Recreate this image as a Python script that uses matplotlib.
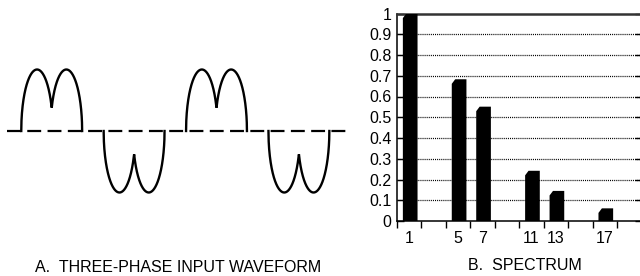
import numpy as np
import matplotlib
matplotlib.use("Agg")
import matplotlib.pyplot as plt

plt.rcParams['font.family'] = ['Liberation Sans', 'DejaVu Sans']
plt.rcParams['lines.scale_dashes'] = False

# ---- data ----
harmonic_slots = [1, 3, 5, 7, 9, 11, 13, 15, 17, 19]
harmonic_labels = ['1', '', '5', '7', '', '11', '13', '', '17', '']
bar_harmonics = [1, 5, 7, 11, 13, 17]
bar_values = [1.0, 0.683, 0.551, 0.242, 0.145, 0.061]
ytick_values = [0, 0.1, 0.2, 0.3, 0.4, 0.5, 0.6, 0.7, 0.8, 0.9, 1.0]
ytick_labels = ['0', '0.1', '0.2', '0.3', '0.4', '0.5', '0.6', '0.7', '0.8', '0.9', '1']

# waveform description (degrees)
pulse_centers = [0, 180, 360, 540]
pulse_signs = [1, -1, 1, -1]
hump_offsets = [-32, 32]
hump_halfwidth = 34.5
zero_line_span = [-97.6, 645.0]

W, H = 640, 276
fig = plt.figure(figsize=(W / 100, H / 100), dpi=100)

# ---- left panel: waveform ----
axw = fig.add_axes([0, 0, 360 / W, 1])
px_per_deg = 164.8 / 360
x0px = 51.7
axw.set_xlim((0 - x0px) / px_per_deg, (360 - x0px) / px_per_deg)
amp_px = 61.5
zero_from_bottom = 276 - 131
axw.set_ylim(-zero_from_bottom / amp_px, (276 - zero_from_bottom) / amp_px)
axw.axis('off')

axw.plot(zero_line_span, [0, 0], color='black', lw=1.6,
         linestyle=(0, (10.0, 4.6)), solid_capstyle='butt', dash_capstyle='butt')

for c, s in zip(pulse_centers, pulse_signs):
    lo = c + hump_offsets[0] - hump_halfwidth
    hi = c + hump_offsets[1] + hump_halfwidth
    x = np.linspace(lo, hi, 800)
    y = np.zeros_like(x)
    for off in hump_offsets:
        d = (x - (c + off)) / hump_halfwidth
        y = np.maximum(y, np.sqrt(np.clip(1 - d ** 2, 0, None)))
    axw.plot(x, s * y, color='black', lw=1.7, solid_joinstyle='miter')

fig.text(178.5 / W, 1 - 267 / H, 'A.  THREE-PHASE INPUT WAVEFORM',
         ha='center', va='center', fontsize=11.5)

# ---- right panel: spectrum ----
left_px, right_px = 397, 641.5
top_px, bot_px = 13.5, 221
axs = fig.add_axes([left_px / W, 1 - bot_px / H, (right_px - left_px) / W,
                    (bot_px - top_px) / H])
n = len(harmonic_slots)
axs.set_xlim(-0.5, n - 0.5)
axs.set_ylim(0, 1)

for v in ytick_values[1:-1]:
    axs.axhline(v, color='black', lw=0.9, linestyle=(0, (0.75, 0.75)), zorder=1)

bw = 0.6
ch_x, ch_y = 0.14, 0.022
for h, v in zip(bar_harmonics, bar_values):
    i = harmonic_slots.index(h) + 0.04
    xl, xr = i - bw / 2, i + bw / 2
    xs = [xl, xl, xl + ch_x, xr, xr]
    ys = [0, v - ch_y, v, v, 0]
    axs.fill(xs, ys, color='black', lw=0, zorder=3)

axs.set_xticks(np.arange(n + 1) - 0.5)
axs.set_xticklabels([])
axs.tick_params(axis='x', which='major', direction='out', length=5, width=1)
axs.set_xticks(np.arange(n), minor=True)
axs.set_xticklabels(harmonic_labels, minor=True, fontsize=11.5)
axs.tick_params(axis='x', which='minor', length=0, pad=7)

axs.set_yticks(ytick_values)
axs.set_yticklabels(ytick_labels, fontsize=11.5)
axs.tick_params(axis='y', direction='in', length=5, width=1, pad=4,
                right=True)

for side in ['left', 'bottom', 'right']:
    axs.spines[side].set_linewidth(1.1)
axs.spines['top'].set_linewidth(1.8)
axs.spines['top'].set_color('#333333')

fig.text(525 / W, 1 - 265 / H, 'B.  SPECTRUM', ha='center', va='center',
         fontsize=11.5)

fig.savefig('out.png', dpi=100)
